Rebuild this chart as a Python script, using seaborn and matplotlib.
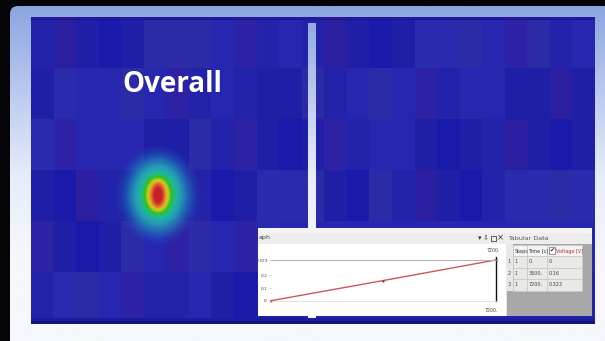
import numpy as np
import pandas as pd
import matplotlib
matplotlib.use("Agg")
import matplotlib.pyplot as plt
from matplotlib.colors import ListedColormap, LinearSegmentedColormap
from matplotlib.patches import Rectangle, Ellipse, FancyBboxPatch
import seaborn as sns

W, H = 605, 341

# heat map cell levels (index into cell_colors)
row0 = [2,7,1,0,1,5,5,5,3,6,2,3,2,7,1,0,1,4,4,5,3,6,5,2,3]
row1 = [1,4,3,3,5,3,6,2,3,2,1,1,5,2,3,5,3,6,2,3,3,1,1,7,1]
row2 = [4,6,3,3,3,1,1,5,2,6,1,0,1,6,2,3,3,1,0,1,2,7,1,0,1]
row3 = [1,0,7,2,1,2,1,2,0,1,4,4,5,1,0,5,2,7,1,0,2,4,4,5,4]
row4 = [6,1,0,1,5,3,6,5,3,6,4,3,3,3,3,3,3,3,3,3,3,3,3,3,3]
row5 = [2,4,5,3,6,2,2,3,1,0,1,1,2,2,2,2,2,2,2,2,2,2,2,2,2]
cell_colors = ["#1a1aaa","#1e1ea6","#2222aa","#2626b0","#2a2aae","#2b2ba8","#2d22a6","#2c1ea0"]

# hot spot rings: rx, ry, colour, alpha (outermost first)
ring_rx = [43,41,39,37,35,33,31,29,27,25,23,21,19,17.5,16,15,14,13,12,11,10,9,8,7,6,5,4]
ring_ry = [50,48,46,44,42,40,38,36,33,31,29,26,24,22,21,20,19,18,17,16,15,14,13,12,10.5,9,7.5]
ring_colors = ["#2460c0","#2468c0","#2470be","#2478bc","#2480bc","#2488bc","#2490ba","#2498b8","#24a0b6",
               "#24a8b2","#24aeae","#22b2a6","#22b69a","#22ba84","#24bc68","#28c048","#30c024","#58c416",
               "#8cc818","#b8cc20","#d4c024","#dcac28","#e08e2c","#dc6c2e","#d84c2e","#d0302c","#c82028"]
ring_alpha = [.07,.09,.11,.13,.16,.2,.24,.3,.36,.45,.55,.7,.8,.9,1,1,1,1,1,1,1,1,1,1,1,1,1]

# inset data
time_s = [0, 3600, 7200]
voltage = [0, 0.16, 0.323]
steps = ["1", "1", "1"]
time_lab = ["0.", "3600.", "7200."]
volt_lab = ["0.", "0.16", "0.323"]
y_ticks = [0, 0.1, 0.2, 0.323]
y_labels = ["0.", "0.1", "0.2", "0.323"]

def axpix(fig, x0, y0, x1, y1, **kw):
    return fig.add_axes([x0 / W, 1 - y1 / H, (x1 - x0) / W, (y1 - y0) / H], **kw)

fig = plt.figure(figsize=(W / 100, H / 100), dpi=100, facecolor="#050508")

# background panel
bg = axpix(fig, 0, 0, W, H, zorder=0)
bg.set_xlim(0, W); bg.set_ylim(H, 0); bg.axis("off")
grad_cmap = LinearSegmentedColormap.from_list("panel", ["#8ba5e0", "#b9c9ee", "#e6ecfa", "#f6f8fd", "#f6f8fd"])
grad = np.linspace(0, 1, 256)[:, None]
panel = FancyBboxPatch((10 + 8, 6 + 8), W, H, boxstyle="round,pad=8", fc="none", ec="none")
bg.add_patch(panel)
im = bg.imshow(grad, cmap=grad_cmap, extent=(0, W, H, 6), aspect="auto")
im.set_clip_path(panel)
bg.set_xlim(0, W); bg.set_ylim(H, 0)

# heat map
hm = axpix(fig, 31, 17, 595, 323, zorder=1)
data = pd.DataFrame([row0, row1, row2, row3, row4, row5])
sns.heatmap(data, ax=hm, cmap=ListedColormap(cell_colors), vmin=-0.5, vmax=7.5, cbar=False,
            xticklabels=False, yticklabels=False, linewidths=0)

# overlay in pixel units
ov = axpix(fig, 0, 0, W, H, zorder=2)
ov.set_xlim(0, W); ov.set_ylim(H, 0); ov.axis("off"); ov.patch.set_alpha(0)

# darker heat map rims
ov.add_patch(Rectangle((31, 17), 564, 3, fc="#24189a", ec="none"))
ov.add_patch(Rectangle((31, 318), 564, 3, fc="#1b1ba2", ec="none"))
ov.add_patch(Rectangle((31, 321), 564, 3, fc="#141478", ec="none"))

for rx, ry, c, a in zip(ring_rx, ring_ry, ring_colors, ring_alpha):
    ov.add_patch(Ellipse((158, 195), 2 * rx, 2 * ry, fc=c, ec="none", alpha=a))

# separator
sep = ov.imshow(grad, cmap=grad_cmap, extent=(0, W, H, 6), aspect="auto")
sep.set_clip_path(Rectangle((308, 23), 8, 295, transform=ov.transData))
ov.set_xlim(0, W); ov.set_ylim(H, 0)

ov.text(122, 92.5, "Overall", family="Open Sans", weight="bold", fontsize=20, color="white", va="baseline")

# inset window
ov.add_patch(Rectangle((258, 228), 248, 88, fc="white", ec="none"))
ov.add_patch(Rectangle((506, 228), 86, 88, fc="#a8a8a8", ec="none"))
ov.add_patch(Rectangle((258, 228), 334, 5, fc="#f4f4f4", ec="none"))
ov.add_patch(Rectangle((258, 233), 334, 11, fc="#ededed", ec="none"))
ov.add_patch(Rectangle((506, 233), 86, 11, fc="#ededed", ec="none"))
ov.add_patch(Rectangle((506, 244), 7, 47, fc="#e8e8e4", ec="none"))
ov.add_patch(Rectangle((506, 291), 1, 25, fc="#e8e8e4", ec="none"))
txt = dict(fontsize=4, color="#444444", va="center", family="DejaVu Sans")
ov.text(258.5, 238, "aph", **{**txt, "fontsize": 4.5})
ov.text(480, 238, "▾", fontsize=5, color="#333333", va="center", ha="center")
ov.text(486, 238, "⇩", fontsize=5, color="#333333", va="center", ha="center")
ov.add_patch(Rectangle((491, 235.5), 4.5, 5, fc="none", ec="#444444", lw=0.6))
ov.text(500, 238, "×", fontsize=6, color="#333333", va="center", ha="center")
ov.text(508, 238, "Tabular Data", **{**txt, "fontsize": 4.6, "color": "#555555"})
ov.text(493, 251, "7200.", **{**txt, "ha": "center", "fontsize": 3.4})
ov.text(491, 311, "7200.", **{**txt, "ha": "center", "fontsize": 3.4})

# table cells
col_x = [513, 527, 547, 582]
row_y = [245, 256, 267.5, 279, 291]
headers = ["Steps", "Time [s]", "Voltage [V]"]
for j in range(3):
    ov.add_patch(Rectangle((col_x[j], row_y[0]), col_x[j + 1] - col_x[j], row_y[1] - row_y[0],
                           fc="#f4f4f2", ec="#c4c4c4", lw=0.5))
    ov.text(col_x[j] + (9 if j == 2 else 1.5), 251, headers[j],
            **{**txt, "fontsize": 3.5, "color": "#c02830" if j == 2 else "#333333"})
    for i, col in enumerate(zip(steps, time_lab, volt_lab)):
        ov.add_patch(Rectangle((col_x[j], row_y[i + 1]), col_x[j + 1] - col_x[j], row_y[i + 2] - row_y[i + 1],
                               fc="#e9e9e5", ec="#c9c9c9", lw=0.5))
        ov.text(col_x[j] + 1.5, (row_y[i + 1] + row_y[i + 2]) / 2, col[j], **{**txt, "fontsize": 3.5})
for i in range(3):
    ov.text(509, (row_y[i + 1] + row_y[i + 2]) / 2, str(i + 1), **{**txt, "ha": "center", "fontsize": 3.5})
ov.add_patch(Rectangle((549, 246.5), 6, 7.5, fc="white", ec="#666666", lw=0.5))
ov.text(552, 250.2, "✔", fontsize=4.5, color="#222222", ha="center", va="center", family="DejaVu Sans")

# inset line chart
lc = axpix(fig, 271, 260, 495.7, 300.7, zorder=3)
lc.patch.set_alpha(0)
line_df = pd.DataFrame({"time": time_s, "voltage": voltage})
sns.lineplot(data=line_df, x="time", y="voltage", ax=lc, color="#c9585c", linewidth=1.0,
             marker="o", markersize=1.6, markeredgewidth=0, markerfacecolor="#b02028", clip_on=False)
lc.set_xlim(0, 7200); lc.set_ylim(0, 0.323)
lc.set_xlabel(""); lc.set_ylabel("")
lc.set_xticks([])
lc.set_yticks(y_ticks, y_labels, fontsize=3.2, color="#444444")
lc.tick_params(axis="y", length=1.5, width=0.4, color="#aaaaaa", pad=0.6)
for s in ["left", "right"]:
    lc.spines[s].set_visible(False)
lc.spines["top"].set_color("#b0b0b0"); lc.spines["top"].set_linewidth(0.7)
lc.spines["bottom"].set_color("#dddddd"); lc.spines["bottom"].set_linewidth(0.6)
lc.axvline(7200, color="#111111", lw=1.0, ymin=0, ymax=1.08, clip_on=False)

fig.savefig("out.png", dpi=100, facecolor=fig.get_facecolor())
